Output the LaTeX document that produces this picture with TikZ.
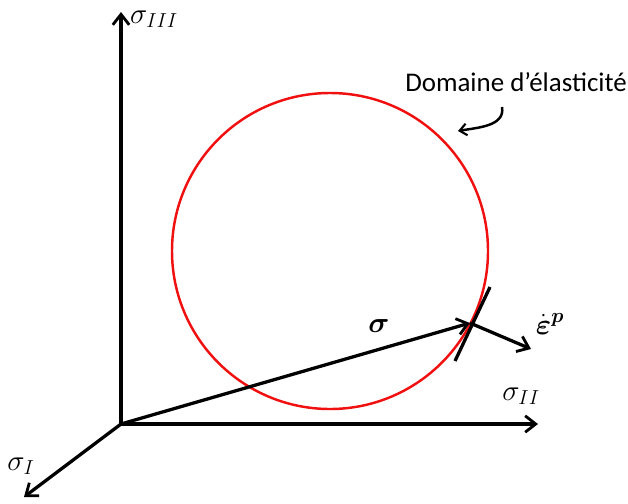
\documentclass[tikz,border=0pt]{standalone}
\usepackage{amsmath}
\usepackage{amssymb}
\usepackage{fontspec}
\setmainfont{Carlito}
\usepackage{tikz}
\usetikzlibrary{arrows.meta,positioning,calc}
\definecolor{yieldred}{HTML}{F01010}

\begin{document}
\begin{tikzpicture}[
  x=0.03cm, y=-0.03cm,
  axis/.style={-{Straight Barb[length=9pt, width=14pt, line width=2.4pt]}, line width=2.8pt},
  vec/.style={-{Straight Barb[length=9pt, width=14pt, line width=2.4pt]}, line width=2.8pt},
  lbl/.style={font=\fontsize{23}{26}\selectfont, inner sep=1pt},
  ptr/.style={-{Straight Barb[length=6pt, width=10pt, line width=1.8pt]}, line width=2.1pt},
]
\useasboundingbox (0,0) rectangle (628,503);
% axes
\coordinate (O) at (121,424);
\coordinate (e3) at (121,12);
\coordinate (e2) at (538,424);
\coordinate (e1) at (24,497);
\draw[axis] (O) -- (e3);
\draw[axis] (O) -- (e2);
\draw[axis] (O) -- (e1);
\node[lbl] (s3) at (154,19) {$\sigma_{III}$};
\node[lbl] (s2) at (521,396) {$\sigma_{II}$};
\node[lbl] (s1) at (21,466) {$\sigma_{I}$};
% elastic domain
\coordinate (C) at (330,251);
\draw[yieldred, line width=2.1pt] (C) circle[radius=4.74cm];
\node[lbl] (dom) at (516,82) {Domaine d’élasticité};
\coordinate (p1) at (502,107);
\coordinate (p2) at (458,131);
\draw[ptr] (p1) to[out=-80, in=10] (p2);
% stress state, normal, flow direction
\coordinate (S) at (470,323);
\coordinate (t1) at (490,287);
\coordinate (t2) at (455,361);
\coordinate (E) at (531,349);
\draw[line width=2.8pt] (t1) -- (t2);
\draw[vec] (O) -- (S);
\draw[vec] (S) -- (E);
\node[lbl] (sig) at (379,326) {$\boldsymbol{\sigma}$};
\node[lbl] (eps) at (550,324) {$\dot{\boldsymbol{\varepsilon}}^{\boldsymbol{p}}$};
\end{tikzpicture}
\end{document}
